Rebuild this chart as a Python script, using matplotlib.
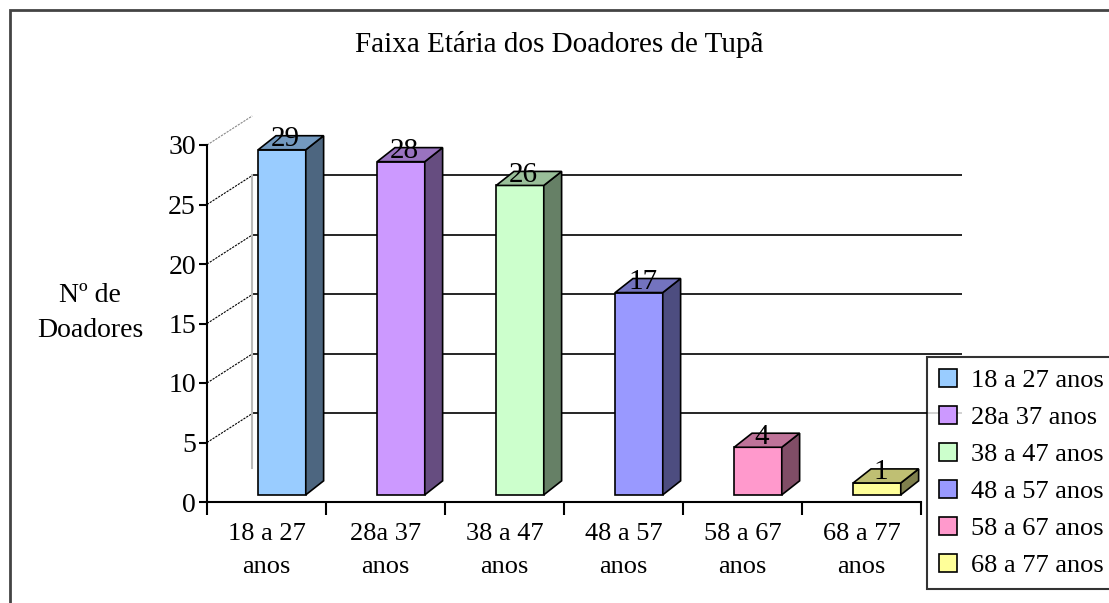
import matplotlib.pyplot as plt
from matplotlib.patches import Polygon, Rectangle
import numpy as np

# data
faixas = ['18 a 27 anos', '28a 37 anos', '38 a 47 anos',
          '48 a 57 anos', '58 a 67 anos', '68 a 77 anos']
rotulos_x = ['18 a 27\nanos', '28a 37\nanos', '38 a 47\nanos',
             '48 a 57\nanos', '58 a 67\nanos', '68 a 77\nanos']
doadores = [29, 28, 26, 17, 4, 1]
cores = ['#99CCFF', '#CC99FF', '#CCFFCC', '#9999FF', '#FF99CC', '#FFFF99']

plt.rcParams['font.family'] = ['Liberation Serif', 'DejaVu Serif']
fs = 19

fig = plt.figure(figsize=(11.09, 6.03), dpi=100)
ax = fig.add_axes([207/1109, 101/603, 755/1109, 402/603])
ax.set_xlim(-0.5, -0.5 + 755/119)
ax.set_ylim(0, 402/11.9)

# fake 3d offsets (data units)
wall_dx, wall_dy = 0.38, 2.44
bar_dx, bar_dy = 0.15, 1.18
bar_shift, bar_base, bar_w = 0.13, 0.6, 0.40

def shade(c, f):
    r, g, b = [int(c[i:i+2], 16) / 255 for i in (1, 3, 5)]
    return (r*f, g*f, b*f)

# back wall gridlines and left wall diagonals
for v in range(5, 30, 5):
    ax.plot([-0.5 + wall_dx, 5.85], [v + wall_dy, v + wall_dy],
            color='black', lw=1.2, zorder=1)
for v in range(5, 35, 5):
    ax.plot([-0.5, -0.5 + wall_dx], [v, v + wall_dy],
            color='#888888' if v == 30 else 'black', lw=0.8,
            ls=(0, (2, 1)), zorder=1, clip_on=False)
ax.plot([-0.5 + wall_dx] * 2, [wall_dy + 0.4, 25 + wall_dy],
        color='#BBBBBB', lw=1.5, zorder=1)

x = np.arange(len(doadores))
for i, v in enumerate(doadores):
    xl = x[i] + bar_shift - bar_w/2
    xr = xl + bar_w
    b = bar_base
    t = bar_base + v
    ax.bar(xl, v, width=bar_w, bottom=b, align='edge', color=cores[i],
           edgecolor='black', lw=1.2, zorder=3)
    ax.add_patch(Polygon([(xr, b), (xr + bar_dx, b + bar_dy),
                          (xr + bar_dx, t + bar_dy), (xr, t)],
                         closed=True, fc=shade(cores[i], 0.5),
                         ec='black', lw=1.2, zorder=3))
    ax.add_patch(Polygon([(xl, t), (xl + bar_dx, t + bar_dy),
                          (xr + bar_dx, t + bar_dy), (xr, t)],
                         closed=True, fc=shade(cores[i], 0.75),
                         ec='black', lw=1.2, zorder=3))
    ax.text((xl + xr)/2 + bar_dx*0.2, t + bar_dy*0.75, str(v),
            ha='center', va='center', fontsize=fs + 2, zorder=4)

# axes
for s in ['top', 'right']:
    ax.spines[s].set_visible(False)
ax.spines['left'].set_bounds(0, 30)
ax.spines['bottom'].set_bounds(-0.5, 5.5)
ax.spines['left'].set_linewidth(1.5)
ax.spines['bottom'].set_linewidth(1.5)
ax.set_yticks(range(0, 35, 5))
ax.tick_params(axis='y', labelsize=fs + 1, length=6, width=1.5, pad=2)
ax.set_xticks(x)
ax.set_xticklabels(rotulos_x, fontsize=fs, linespacing=1.65)
ax.set_xticks(np.arange(-0.5, 6, 1), minor=True)
ax.tick_params(axis='x', which='major', length=0, pad=15)
ax.tick_params(axis='x', which='minor', length=9, width=1.5)

fig.text(559/1109, 1 - 45/603, 'Faixa Etária dos Doadores de Tupã',
         ha='center', va='center', fontsize=fs + 2)
fig.text(90/1109, 1 - 313/603, 'Nº de\nDoadores', ha='center',
         va='center', fontsize=fs + 1, linespacing=1.5)

handles = [Rectangle((0, 0), 1, 1, fc=c, ec='black', lw=1.2) for c in cores]
leg = fig.legend(handles, faixas, loc='upper left',
                 bbox_to_anchor=(927/1109, 1 - 357/603), fontsize=fs,
                 frameon=True, fancybox=False, edgecolor='black',
                 handlelength=0.7, handleheight=0.7, handletextpad=0.5,
                 labelspacing=0.51, borderpad=0.45, borderaxespad=0)
leg.get_frame().set_linewidth(1.5)
leg.set_zorder(10)

# outer border (only left and top visible)
fig.patches.append(Rectangle((10/1109, -0.1), 1.2, 1.1 - 10/603,
                             transform=fig.transFigure, fill=False,
                             ec='#444444', lw=2))

fig.savefig('out.png', dpi=100)
